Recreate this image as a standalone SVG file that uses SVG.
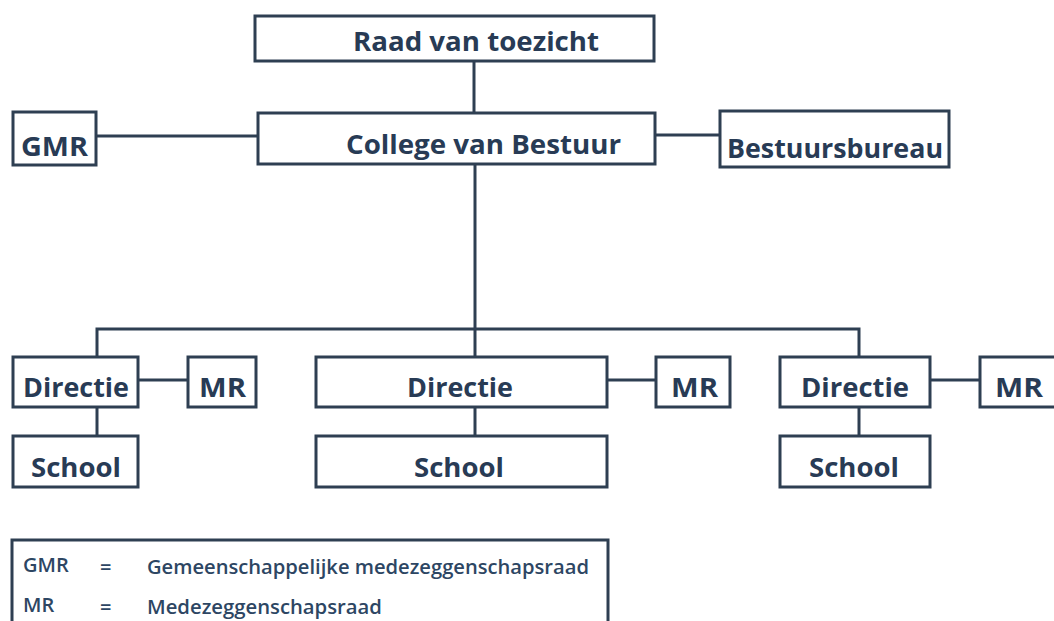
<svg xmlns="http://www.w3.org/2000/svg" width="1054" height="621" viewBox="0 0 1054 621">
<style>
.box{fill:#ffffff;stroke:#2e3f52;stroke-width:3}
.ln{stroke:#2e3f52;stroke-width:3;fill:none}
.t{font-family:"Open Sans","Noto Sans",sans-serif;font-weight:700;font-size:27.5px;fill:#283b55}
.lg{font-family:"Open Sans","Noto Sans",sans-serif;font-weight:600;font-size:20px;fill:#2d4663}
</style>
<rect width="1054" height="621" fill="#ffffff"/>
<g id="connectors">
<line class="ln" x1="474" y1="62" x2="474" y2="112"/>
<line class="ln" x1="97" y1="136" x2="257" y2="136"/>
<line class="ln" x1="656" y1="135" x2="719" y2="135"/>
<line class="ln" x1="475" y1="165" x2="475" y2="356"/>
<polyline class="ln" points="97,356 97,329 859,329 859,356"/>
<line class="ln" x1="139" y1="380" x2="187" y2="380"/>
<line class="ln" x1="608" y1="380" x2="655" y2="380"/>
<line class="ln" x1="930" y1="380" x2="979" y2="380"/>
<line class="ln" x1="97" y1="408" x2="97" y2="435"/>
<line class="ln" x1="475" y1="408" x2="475" y2="435"/>
<line class="ln" x1="859" y1="408" x2="859" y2="435"/>
</g>
<g id="raad"><rect class="box" x="255" y="16" width="399" height="45"/><text class="t" x="353" y="51" textLength="246" lengthAdjust="spacingAndGlyphs">Raad van toezicht</text></g>
<g id="college"><rect class="box" x="258" y="113" width="397" height="51"/><text class="t" x="346" y="154" textLength="275" lengthAdjust="spacingAndGlyphs">College van Bestuur</text></g>
<g id="gmr"><rect class="box" x="13" y="112" width="83" height="53"/><text class="t" x="21" y="156" textLength="67" lengthAdjust="spacingAndGlyphs">GMR</text></g>
<g id="bestuursbureau"><rect class="box" x="720" y="111" width="229" height="56"/><text class="t" x="727" y="158" textLength="216" lengthAdjust="spacingAndGlyphs">Bestuursbureau</text></g>
<g id="directie1"><rect class="box" x="13" y="357" width="125" height="50"/><text class="t" x="23" y="397" textLength="106" lengthAdjust="spacingAndGlyphs">Directie</text></g>
<g id="mr1"><rect class="box" x="188" y="357" width="68" height="50"/><text class="t" x="199" y="397" textLength="47" lengthAdjust="spacingAndGlyphs">MR</text></g>
<g id="school1"><rect class="box" x="13" y="436" width="125" height="51"/><text class="t" x="31" y="477" textLength="90" lengthAdjust="spacingAndGlyphs">School</text></g>
<g id="directie2"><rect class="box" x="316" y="357" width="291" height="50"/><text class="t" x="407" y="397" textLength="106" lengthAdjust="spacingAndGlyphs">Directie</text></g>
<g id="mr2"><rect class="box" x="656" y="357" width="74" height="50"/><text class="t" x="671" y="397" textLength="47" lengthAdjust="spacingAndGlyphs">MR</text></g>
<g id="school2"><rect class="box" x="316" y="436" width="291" height="51"/><text class="t" x="414" y="477" textLength="90" lengthAdjust="spacingAndGlyphs">School</text></g>
<g id="directie3"><rect class="box" x="780" y="357" width="150" height="50"/><text class="t" x="801" y="397" textLength="108" lengthAdjust="spacingAndGlyphs">Directie</text></g>
<g id="mr3"><rect class="box" x="980" y="357" width="90" height="50"/><text class="t" x="995" y="397" textLength="48" lengthAdjust="spacingAndGlyphs">MR</text></g>
<g id="school3"><rect class="box" x="780" y="436" width="150" height="51"/><text class="t" x="809" y="477" textLength="90" lengthAdjust="spacingAndGlyphs">School</text></g>
<g id="legend">
<rect class="box" x="12" y="540" width="596" height="110"/>
<text class="lg" x="23" y="572">GMR</text>
<text class="lg" x="100" y="574">=</text>
<text class="lg" x="147" y="574" textLength="442" lengthAdjust="spacingAndGlyphs">Gemeenschappelijke medezeggenschapsraad</text>
<text class="lg" x="23" y="612">MR</text>
<text class="lg" x="100" y="614">=</text>
<text class="lg" x="147" y="614" textLength="235" lengthAdjust="spacingAndGlyphs">Medezeggenschapsraad</text>
</g>
</svg>
